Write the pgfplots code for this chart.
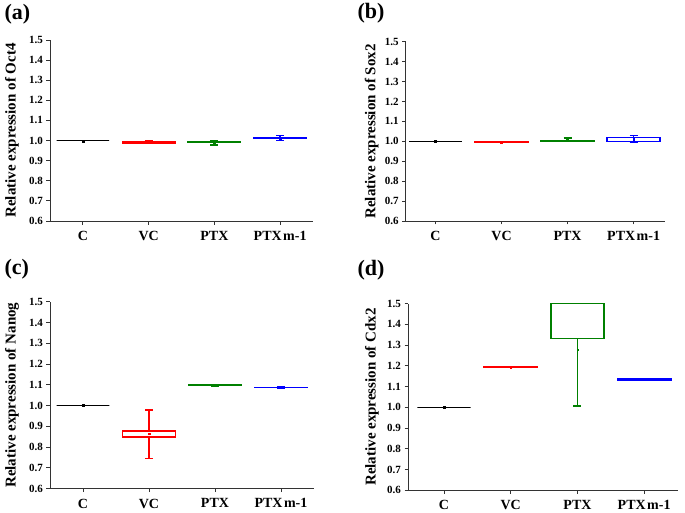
\documentclass[border=0pt]{standalone}
\usepackage{pgfplots}
\pgfplotsset{compat=1.18}
\usepgfplotslibrary{statistics}
\usepackage{fontspec}
\setmainfont{Liberation Serif}
\definecolor{ogreen}{RGB}{0,128,0}
\definecolor{oblue}{RGB}{0,0,255}
\definecolor{ored}{RGB}{255,0,0}
\pgfplotsset{
  panel/.style={
    scale only axis,
    clip=false,
    axis x line*=bottom, axis y line*=left,
    axis line style={line width=0.9pt, black!80, -},
    ymin=0.6, ymax=1.5,
    xtick={0,1,2,3}, xticklabels={C,VC,PTX,PTX\hspace{1.5pt}m-1},
    ytick={0.6,0.7,0.8,0.9,1.0,1.1,1.2,1.3,1.4,1.5},
    tick align=outside, major tick length=3.5pt,
    tick style={line width=0.9pt, black!80},
    yticklabel style={font=\fontsize{11}{12}\selectfont\bfseries, /pgf/number format/.cd, fixed, fixed zerofill, precision=1, assume math mode=true},
    xticklabel style={font=\fontsize{14}{16}\selectfont\bfseries, yshift=-3pt},
    ylabel style={font=\fontsize{15}{18}\selectfont\bfseries, anchor=center},
    boxplot/draw direction=y,
    boxplot/every box/.style={line width=1.5pt},
    boxplot/every whisker/.style={line width=1.5pt},
    boxplot/every median/.style={draw=none},
  },
  bx/.style={line width=1.5pt, boxplot/box extend=0.8, boxplot/whisker extend=0.12},
  mn/.style={only marks, mark=square*, mark size=0.9pt},
  cb/.style={boxplot/every box/.style={line width=1.1pt}},
}
\newcommand{\bp}[7]{\addplot[#1, bx, boxplot prepared={draw position=#2, lower whisker=#3, lower quartile=#4, median=#5, upper quartile=#6, upper whisker=#7}] coordinates {};}
\begin{document}
\begin{tikzpicture}
\useasboundingbox (0,0) rectangle (685pt,512pt);
% (a)
\begin{axis}[panel, at={(50pt,291pt)}, anchor=south west, width=263pt, height=181pt,
  xmin=-0.5, xmax=3.5, ylabel={Relative expression of Oct4},
  ylabel style={at={(axis description cs:-0.1445,0.5)}}]
\bp{black,cb}{0}{1.0}{1.0}{1.0}{1.0}{1.0}
\bp{ored}{1}{0.985}{0.986}{0.99}{0.994}{0.997}
\bp{ogreen}{2}{0.977}{0.99}{0.993}{0.996}{1.0}
\bp{oblue}{3}{1.0}{1.01}{1.013}{1.015}{1.025}
\addplot[mn, black] coordinates {(0,0.998)};
\addplot[mn, ored] coordinates {(1,0.99)};
\addplot[mn, ogreen] coordinates {(2,0.99)};
\addplot[mn, oblue] coordinates {(3,1.012)};
\end{axis}
% (b)
\begin{axis}[panel, at={(405.7pt,291pt)}, anchor=south west, width=259pt, height=179.3pt,
  xmin=-0.45, xmax=3.47, ylabel={Relative expression of Sox2},
  ylabel style={at={(axis description cs:-0.131,0.5)}}]
\bp{black,cb}{0}{1.0}{1.0}{1.0}{1.0}{1.0}
\bp{ored}{1}{0.995}{0.996}{0.998}{1.0}{1.0}
\bp{ogreen}{2}{1.0}{1.0}{1.002}{1.004}{1.017}
\bp{oblue}{3}{0.993}{1.0}{1.01}{1.02}{1.03}
\addplot[mn, black] coordinates {(0,1.002)};
\addplot[mn, ored] coordinates {(1,0.997)};
\addplot[mn, ogreen] coordinates {(2,1.005)};
\addplot[mn, oblue] coordinates {(3,1.01)};
\end{axis}
% (c)
\begin{axis}[panel, at={(50pt,23.3pt)}, anchor=south west, width=264pt, height=187pt,
  xmin=-0.5, xmax=3.5, ylabel={Relative expression of Nanog},
  ylabel style={at={(axis description cs:-0.144,0.5)}}]
\bp{black,cb}{0}{1.0}{1.0}{1.0}{1.0}{1.0}
\bp{ored}{1}{0.745}{0.85}{0.865}{0.877}{0.98}
\bp{ogreen}{2}{1.095}{1.096}{1.097}{1.098}{1.1}
\bp{oblue}{3}{1.085}{1.086}{1.087}{1.088}{1.09}
\addplot[mn, black] coordinates {(0,1.002)};
\addplot[mn, ored] coordinates {(1,0.865)};
\addplot[mn, ogreen] coordinates {(2,1.096)};
\addplot[mn, oblue] coordinates {(3,1.086)};
\end{axis}
% (d)
\begin{axis}[panel, at={(408pt,21.7pt)}, anchor=south west, width=269.5pt, height=186.6pt,
  xmin=-0.54, xmax=3.5, ylabel={Relative expression of Cdx2},
  ylabel style={at={(axis description cs:-0.1336,0.5)}}]
\bp{black,cb}{0}{1.0}{1.0}{1.0}{1.0}{1.0}
\bp{ored}{1}{1.192}{1.193}{1.195}{1.197}{1.198}
\bp{ogreen}{2}{1.007}{1.333}{1.5}{1.5}{1.5}
\bp{oblue}{3}{1.13}{1.132}{1.135}{1.137}{1.139}
\addplot[mn, black] coordinates {(0,1.0)};
\addplot[mn, ored] coordinates {(1,1.194)};
\addplot[mn, ogreen, mark size=0.6pt] coordinates {(2,1.28)};
\addplot[mn, oblue] coordinates {(3,1.134)};
\end{axis}
\node[font=\fontsize{22}{24}\selectfont\bfseries, anchor=west] at (1pt,498pt) {(a)};
\node[font=\fontsize{22}{24}\selectfont\bfseries, anchor=west] at (354pt,499pt) {(b)};
\node[font=\fontsize{22}{24}\selectfont\bfseries, anchor=west] at (1pt,243pt) {(c)};
\node[font=\fontsize{22}{24}\selectfont\bfseries, anchor=west] at (354pt,242pt) {(d)};
\end{tikzpicture}
\end{document}
